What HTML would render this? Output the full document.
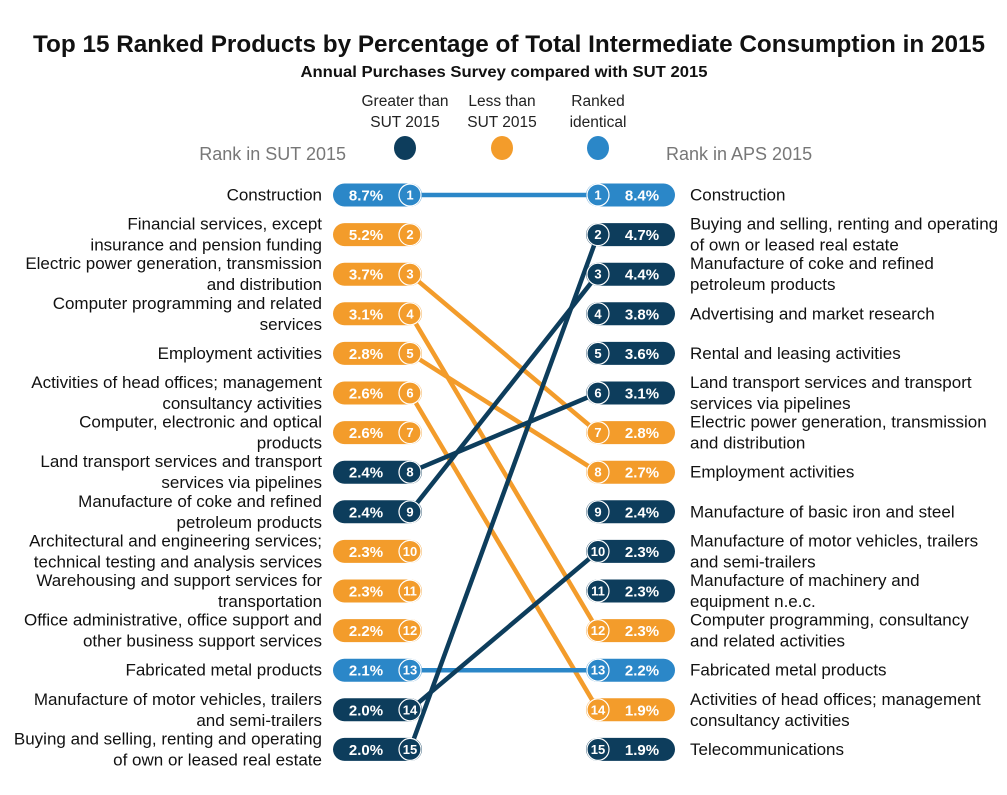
<!DOCTYPE html>
<html><head><meta charset="utf-8"><style>
body{margin:0;background:#fff;}
svg{display:block;font-family:"Liberation Sans",sans-serif;}
</style></head><body>
<svg id="chart" width="1007" height="795" viewBox="0 0 1007 795">
<text x="509" y="52" text-anchor="middle" font-size="24" font-weight="bold" fill="#111" textLength="952" lengthAdjust="spacingAndGlyphs">Top 15 Ranked Products by Percentage of  Total Intermediate Consumption in 2015</text>
<text x="504" y="77" text-anchor="middle" font-size="16" font-weight="bold" fill="#111" textLength="407" lengthAdjust="spacingAndGlyphs">Annual Purchases Survey compared with SUT 2015</text>
<g font-size="15.5" fill="#222" text-anchor="middle">
<text x="405" y="106">Greater than</text><text x="405" y="127">SUT 2015</text>
<text x="502" y="106">Less than</text><text x="502" y="127">SUT 2015</text>
<text x="598" y="106">Ranked</text><text x="598" y="127">identical</text>
<ellipse cx="405" cy="148" rx="11" ry="12" fill="#0d3d5c"/>
<ellipse cx="502" cy="148" rx="11" ry="12" fill="#f39c2b"/>
<ellipse cx="598" cy="148" rx="11" ry="12" fill="#2b87c8"/>
</g>
<text x="346" y="160" text-anchor="end" font-size="18" fill="#777">Rank in SUT 2015</text>
<text x="666" y="160" font-size="18" fill="#777">Rank in APS 2015</text>
<g id="lines"></g><g id="pills"></g><g id="labels"></g>
</svg>
<script>
const leftLabels=[["Construction"],["Financial services, except","insurance and pension funding"],["Electric power generation, transmission","and distribution"],["Computer programming and related","services"],["Employment activities"],["Activities of head offices; management","consultancy activities"],["Computer, electronic and optical","products"],["Land transport services and transport","services via pipelines"],["Manufacture of coke and refined","petroleum products"],["Architectural and engineering services;","technical testing and analysis services"],["Warehousing and support services for","transportation"],["Office administrative, office support and","other business support services"],["Fabricated metal products"],["Manufacture of motor vehicles, trailers","and semi-trailers"],["Buying and selling, renting and operating","of own or leased real estate"]];
const leftValues=[8.7,5.2,3.7,3.1,2.8,2.6,2.6,2.4,2.4,2.3,2.3,2.2,2.1,2.0,2.0];
const leftStatus=["same","less","less","less","less","less","less","greater","greater","less","less","less","same","greater","greater"];
const rightLabels=[["Construction"],["Buying and selling, renting and operating","of own or leased real estate"],["Manufacture of coke and refined","petroleum products"],["Advertising and market research"],["Rental and leasing activities"],["Land transport services and transport","services via pipelines"],["Electric power generation, transmission","and distribution"],["Employment activities"],["Manufacture of basic iron and steel"],["Manufacture of motor vehicles, trailers","and semi-trailers"],["Manufacture of machinery and","equipment n.e.c."],["Computer programming, consultancy","and related activities"],["Fabricated metal products"],["Activities of head offices; management","consultancy activities"],["Telecommunications"]];
const rightValues=[8.4,4.7,4.4,3.8,3.6,3.1,2.8,2.7,2.4,2.3,2.3,2.3,2.2,1.9,1.9];
const rightStatus=["same","greater","greater","greater","greater","greater","less","less","greater","greater","greater","less","same","less","greater"];
const linkFrom=[1,3,4,5,6,8,9,13,14,15];
const linkTo=[1,7,12,8,14,6,3,13,10,2];

const colors={same:"#2b87c8",less:"#f39c2b",greater:"#0d3d5c"};
const NS="http://www.w3.org/2000/svg";
const rowY=r=>195+(r-1)*39.6;
const LX0=333,LX1=422,LC=410,RX0=586,RX1=675,RC=598;
function mk(t,a,p){const e=document.createElementNS(NS,t);for(const k in a)e.setAttribute(k,a[k]);p.appendChild(e);return e;}
const gl=document.getElementById('lines'),gp=document.getElementById('pills'),gt=document.getElementById('labels');
linkFrom.forEach((f,i)=>{
 const l=mk('line',{x1:LC,y1:rowY(f),x2:RC,y2:rowY(linkTo[i]),stroke:colors[leftStatus[f-1]],'stroke-width':4.5},gl);
 
 
});
function pill(side,i,val,st){
 const y=rowY(i+1),c=colors[st];
 const g=mk('g',{},gp);
 
 
 const x0=side==='left'?LX0:RX0,x1=side==='left'?LX1:RX1,cx=side==='left'?LC:RC;
 mk('rect',{x:x0,y:y-11.5,width:x1-x0,height:23,rx:11.5,fill:c},g);
 mk('circle',{cx:cx,cy:y,r:11,fill:c,stroke:'#fff','stroke-width':1.2},g);
 const n=mk('text',{x:cx,y:y+4.5,'text-anchor':'middle','font-size':13,'font-weight':'bold',fill:'#fff'},g);n.textContent=i+1;
 const vx=side==='left'?(LX0+LC-11)/2:(RC+11+RX1)/2;
 const v=mk('text',{x:vx,y:y+5.5,'text-anchor':'middle','font-size':15,'font-weight':'bold',fill:'#fff'},g);v.textContent=val.toFixed(1)+'%';
}
leftValues.forEach((v,i)=>pill('left',i,v,leftStatus[i]));
rightValues.forEach((v,i)=>pill('right',i,v,rightStatus[i]));
function label(side,i,lines){
 const y=rowY(i+1);
 const t=mk('text',{x:side==='left'?322:690,'text-anchor':side==='left'?'end':'start','font-size':17,fill:'#111'},gt);
 
 
 const y0=lines.length===1?y+5.5:y-5;
 lines.forEach((s,k)=>{const ts=mk('tspan',{x:side==='left'?322:690,y:y0+k*21},t);ts.textContent=s;});
}
leftLabels.forEach((l,i)=>label('left',i,l));
rightLabels.forEach((l,i)=>label('right',i,l));
</script>
</body></html>
